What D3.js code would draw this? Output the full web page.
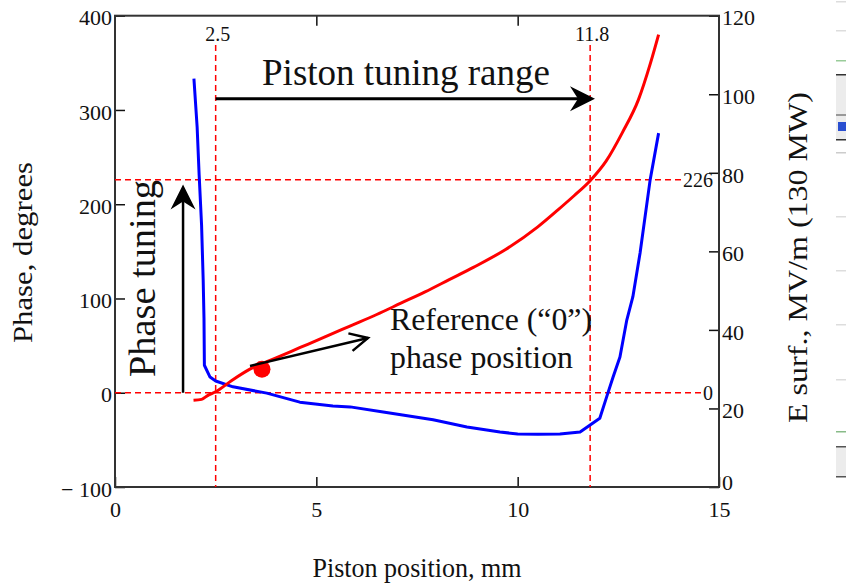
<!DOCTYPE html>
<html>
<head>
<meta charset="utf-8">
<script src="https://cdn.jsdelivr.net/npm/d3@7"></script>
<style>
  html, body { margin: 0; padding: 0; background: #fff; }
  svg { display: block; }
  text { font-family: "Liberation Serif", "Times New Roman", serif; fill: #111; }
</style>
</head>
<body>
<svg id="chart" width="846" height="587"></svg>
<script>
// ---------------- DATA ----------------
const xTicks = [0, 5, 10, 15];
const phaseTicks = [-100, 0, 100, 200, 300, 400];
const eTicks = [0, 20, 40, 60, 80, 100, 120];

// Phase (degrees, left axis) vs piston position (mm)
const phaseX = [1.95, 2.15, 2.3, 2.5, 2.9, 3.35, 4.0, 4.6, 5.2, 5.85, 6.5, 7.1, 7.7, 8.3, 8.9, 9.7, 10.5, 11.0, 11.4, 11.8, 12.2, 12.6, 13.0, 13.3, 13.5];
const phaseY = [-8, -7, -3, 1, 13, 25, 37, 48, 59, 71, 83, 95, 107, 120, 133, 152, 176, 194, 209, 225, 246, 276, 311, 350, 380];

// E surf (MV/m, right axis) vs piston position (mm)
const esurfX = [1.96, 2.04, 2.09, 2.15, 2.19, 2.21, 2.22, 2.36, 2.5, 2.93, 3.77, 4.59, 5.41, 5.84, 6.66, 7.9, 8.74, 9.56, 10.0, 10.5, 11.05, 11.55, 11.8, 12.04, 12.24, 12.37, 12.54, 12.71, 12.86, 13.04, 13.29, 13.5];
const esurfY = [104, 91.6, 79.4, 66.7, 52.7, 43, 31, 28, 27, 25.5, 23.9, 21.6, 20.6, 20.4, 19.1, 17.1, 15.3, 14.0, 13.5, 13.4, 13.5, 14.0, 15.8, 17.5, 23.9, 28.0, 33.1, 42.5, 48.4, 59.6, 78.2, 90.1];

// Marker lines
const markerPositions = [2.5, 11.8];      // piston tuning range limits
const markerPhases = [0, 226];           // phase tuning range limits
const referencePoint = [3.65, 25];       // reference ("0") phase position

// ---------------- SETUP ----------------
const svg = d3.select("#chart");
const L = 115, R = 719, T = 15.7, B = 487;

const x = d3.scaleLinear().domain([0, 15]).range([L, R]);
const yL = d3.scaleLinear().domain([-100, 400]).range([B, T]);
const yR = d3.scaleLinear().domain([0, 120]).range([B, T]);

const red = "#ff0000", blue = "#0000ff", axisCol = "#333";

// --- right-edge UI fragments of the screenshot (decoration) ---
const deco = svg.append("g").attr("class", "deco");
[[2,"#ddd"],[31,"#ddd"],[61,"#9c9"],[153,"#ccc"],[217,"#ddd"],[271,"#ddd"],[325,"#ddd"],[380,"#ddd"],[432,"#8b8"]].forEach(([yy,c]) =>
  deco.append("rect").attr("x", 836).attr("y", yy - 1).attr("width", 10).attr("height", 1.5).attr("fill", c));
deco.append("rect").attr("x", 836).attr("y", 75).attr("width", 10).attr("height", 65).attr("fill", "#ececec");
deco.append("rect").attr("x", 836).attr("y", 74).attr("width", 10).attr("height", 1.5).attr("fill", "#333");
deco.append("rect").attr("x", 836).attr("y", 114).attr("width", 10).attr("height", 2).attr("fill", "#999");
deco.append("rect").attr("x", 836).attr("y", 139).attr("width", 10).attr("height", 1.5).attr("fill", "#333");
deco.append("rect").attr("x", 838).attr("y", 122).attr("width", 8).attr("height", 9).attr("fill", "#2a4fd0");
deco.append("rect").attr("x", 836).attr("y", 447).attr("width", 10).attr("height", 30).attr("fill", "#ececec");
deco.append("rect").attr("x", 836).attr("y", 446).attr("width", 10).attr("height", 1.5).attr("fill", "#555");
deco.append("rect").attr("x", 836).attr("y", 476).attr("width", 10).attr("height", 1.5).attr("fill", "#555");

// ---------------- AXES ----------------
const fmtPhase = d => d < 0 ? "\u2212 " + Math.abs(d) : String(d);

const gL = svg.append("g").attr("transform", `translate(${L},0)`)
  .call(d3.axisLeft(yL).tickValues(phaseTicks).tickFormat(fmtPhase).tickSizeInner(-10).tickSizeOuter(0).tickPadding(3));
const gR = svg.append("g").attr("transform", `translate(${R},0)`)
  .call(d3.axisRight(yR).tickValues(eTicks).tickSizeInner(-10).tickSizeOuter(0).tickPadding(3));
const gB = svg.append("g").attr("transform", `translate(0,${B})`)
  .call(d3.axisBottom(x).tickValues(xTicks).tickSizeInner(-10).tickSizeOuter(0).tickPadding(14));
const gT = svg.append("g").attr("transform", `translate(0,${T})`)
  .call(d3.axisTop(x).tickValues([5, 10]).tickFormat("").tickSizeInner(-10).tickSizeOuter(0));

[gL, gR, gB, gT].forEach(g => {
  g.select(".domain").remove();
  g.selectAll(".tick line").attr("stroke", "#111").attr("stroke-width", 1.5);
  g.selectAll("text").style("font-family", "'Liberation Serif', serif").style("font-size", "22px").attr("fill", "#222");
});
gL.selectAll("text").attr("dy", "0.42em");
gR.selectAll("text").attr("dy", d => d === 0 ? "0.12em" : "0.42em");

// frame
svg.append("rect").attr("x", L).attr("y", T).attr("width", R - L).attr("height", B - T)
  .attr("fill", "none").attr("stroke", axisCol).attr("stroke-width", 2);

// ---------------- MARKER (dashed) LINES ----------------
const dash = "6,4";
const gm = svg.append("g");
markerPositions.forEach(v => {
  gm.append("line").attr("x1", x(v)).attr("x2", x(v)).attr("y1", yL(369)).attr("y2", B)
    .attr("stroke", red).attr("stroke-width", 1.5).attr("stroke-dasharray", dash);
  gm.append("text").attr("x", x(v) + 2).attr("y", 41).attr("text-anchor", "middle")
    .style("font-size", "20px").text(v);
});
const hEnds = [14.65, 14.1];
markerPhases.forEach((v, i) => {
  gm.append("line").attr("x1", L).attr("x2", x(hEnds[i])).attr("y1", yL(v)).attr("y2", yL(v))
    .attr("stroke", red).attr("stroke-width", 1.5).attr("stroke-dasharray", dash);
  gm.append("text").attr("x", 713).attr("y", yL(v) + 7).attr("text-anchor", "end")
    .style("font-size", "20px").text(v);
});

// ---------------- CURVES ----------------
const phaseData = phaseX.map((d, i) => [d, phaseY[i]]);
const esurfData = esurfX.map((d, i) => [d, esurfY[i]]);

svg.append("path").datum(esurfData)
  .attr("d", d3.line().x(d => x(d[0])).y(d => yR(d[1])))
  .attr("fill", "none").attr("stroke", blue).attr("stroke-width", 3).attr("stroke-linejoin", "round");

svg.append("path").datum(phaseData)
  .attr("d", d3.line().curve(d3.curveMonotoneX).x(d => x(d[0])).y(d => yL(d[1])))
  .attr("fill", "none").attr("stroke", red).attr("stroke-width", 3);

svg.append("circle").attr("cx", x(referencePoint[0])).attr("cy", yL(referencePoint[1])).attr("r", 8.5).attr("fill", red);

// ---------------- ANNOTATIONS ----------------
function filledHead(g, tx, ty, angleDeg, len, half, notch) {
  g.append("path")
    .attr("d", `M0,0 L${-len},${-half} L${-notch},0 L${-len},${half} Z`)
    .attr("transform", `translate(${tx},${ty}) rotate(${angleDeg})`)
    .attr("fill", "#000");
}
const ga = svg.append("g");

// Piston tuning range arrow
const arY = yL(312);
ga.append("line").attr("x1", x(2.5)).attr("x2", x(11.92) - 10).attr("y1", arY).attr("y2", arY)
  .attr("stroke", "#000").attr("stroke-width", 3);
filledHead(ga, x(11.92), arY, 0, 25, 12.5, 17);
ga.append("text").attr("x", 406).attr("y", 85).attr("text-anchor", "middle")
  .style("font-size", "37px").attr("textLength", 288).attr("lengthAdjust", "spacingAndGlyphs")
  .text("Piston tuning range");

// Phase tuning arrow
const apX = x(1.69);
ga.append("line").attr("x1", apX).attr("x2", apX).attr("y1", yL(0)).attr("y2", yL(221) + 10)
  .attr("stroke", "#000").attr("stroke-width", 2.5);
filledHead(ga, apX, yL(221), -90, 25, 12.5, 17);
ga.append("text").attr("transform", "translate(155,278.5) rotate(-90)").attr("text-anchor", "middle")
  .style("font-size", "38px").attr("textLength", 197).attr("lengthAdjust", "spacingAndGlyphs")
  .text("Phase tuning");

// Reference arrow (open head)
const r0 = [250, 366], r1 = [368, 338];
ga.append("line").attr("x1", r0[0]).attr("y1", r0[1]).attr("x2", r1[0]).attr("y2", r1[1])
  .attr("stroke", "#000").attr("stroke-width", 2.5);
const ang = Math.atan2(r1[1] - r0[1], r1[0] - r0[0]) * 180 / Math.PI;
ga.append("path").attr("d", "M-18,-9 L0,0 L-18,9")
  .attr("transform", `translate(${r1[0]},${r1[1]}) rotate(${ang})`)
  .attr("fill", "none").attr("stroke", "#000").attr("stroke-width", 2.5);
ga.append("text").attr("x", 390).attr("y", 330).style("font-size", "31px")
  .attr("textLength", 202).attr("lengthAdjust", "spacingAndGlyphs").text("Reference (\u201C0\u201D)");
ga.append("text").attr("x", 390).attr("y", 368).style("font-size", "31px")
  .attr("textLength", 183).attr("lengthAdjust", "spacingAndGlyphs").text("phase position");

// ---------------- AXIS TITLES ----------------
svg.append("text").attr("x", 417).attr("y", 577).attr("text-anchor", "middle")
  .style("font-size", "27px").attr("textLength", 209).attr("lengthAdjust", "spacingAndGlyphs")
  .attr("fill", "#222").text("Piston position, mm");
svg.append("text").attr("transform", "translate(32,252.5) rotate(-90)").attr("text-anchor", "middle")
  .style("font-size", "27px").attr("textLength", 181).attr("lengthAdjust", "spacingAndGlyphs")
  .attr("fill", "#222").text("Phase, degrees");
svg.append("text").attr("transform", "translate(807,257.5) rotate(-90)").attr("text-anchor", "middle")
  .style("font-size", "28px").attr("textLength", 331).attr("lengthAdjust", "spacingAndGlyphs")
  .attr("fill", "#222").text("E surf., MV/m (130 MW)");
</script>
</body>
</html>
